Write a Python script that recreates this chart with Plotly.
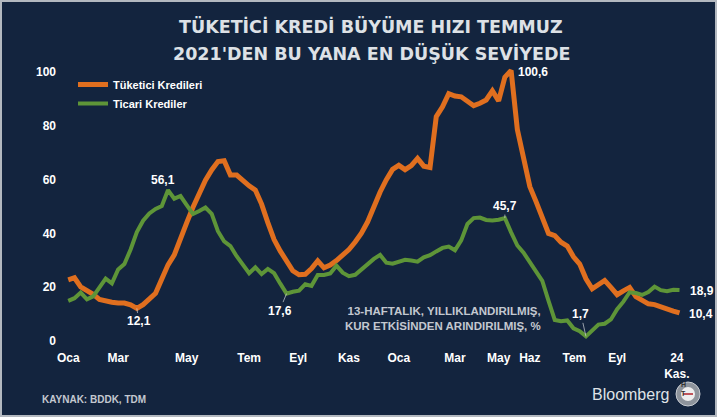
import plotly.graph_objects as go
import pandas as pd

# weekly data, 13-week annualised growth (%), Jan 2023 - Nov 2024
weeks = pd.date_range("2023-01-06", periods=99, freq="7D")

tuketici = [22.7, 23.5, 20.1, 18.9, 17.3, 15.4, 14.8, 14.4, 14.1, 14.1,
            13.4, 12.1, 13.5, 15.7, 17.7, 23.0, 28.3, 32.0, 38.7, 44.0,
            49.7, 55.0, 59.8, 63.6, 66.7, 67.0, 61.7, 61.7, 59.4, 57.7,
            56.1, 50.9, 44.0, 37.7, 33.4, 29.6, 26.1, 24.6, 24.8, 26.9,
            29.8, 27.2, 28.2, 29.9, 32.0, 34.0, 36.8, 40.1, 44.3, 50.1,
            55.4, 60.0, 63.8, 65.3, 63.7, 65.2, 67.9, 65.0, 64.5, 83.4,
            87.1, 92.0, 91.1, 90.8, 89.4, 87.5, 88.4, 89.6, 93.0, 89.3,
            98.1, 100.6, 78.6, 67.3, 57.4, 51.8, 46.1, 40.0, 39.2, 36.7,
            35.3, 31.3, 28.6, 23.1, 19.4, 20.7, 22.5, 19.9, 17.2, 18.6,
            19.9, 16.5, 14.9, 13.8, 13.5, 12.6, 12.0, 11.1, 10.4]

ticari = [14.9, 15.9, 18.0, 15.5, 16.6, 19.8, 23.2, 21.4, 26.6, 28.6,
          34.0, 40.5, 44.7, 47.4, 49.1, 50.2, 56.1, 52.9, 53.9, 50.5,
          47.2, 48.3, 49.6, 47.3, 40.8, 37.0, 35.3, 31.5, 28.5, 25.2,
          27.4, 24.9, 26.8, 25.2, 21.3, 17.6, 18.3, 18.7, 21.1, 20.5,
          24.5, 24.5, 25.1, 28.0, 25.4, 24.1, 24.6, 26.6, 28.8, 30.5,
          32.0, 29.1, 28.7, 29.5, 30.2, 29.9, 29.5, 31.1, 31.9, 33.3,
          34.6, 35.1, 33.7, 37.4, 43.5, 45.7, 45.9, 45.0, 44.8, 45.1,
          45.7, 40.4, 35.5, 32.8, 29.4, 26.0, 22.3, 14.9, 7.8, 7.3,
          7.6, 4.7, 3.6, 1.7, 4.1, 6.1, 6.4, 8.0, 11.8, 14.6,
          18.1, 17.8, 17.1, 18.2, 20.2, 18.9, 18.5, 19.0, 18.9]

tick_dates = ["2023-01-06", "2023-03-03", "2023-05-19", "2023-07-28", "2023-09-21",
              "2023-11-17", "2024-01-12", "2024-03-15", "2024-05-03", "2024-06-07",
              "2024-07-27", "2024-09-13", "2024-11-19"]
tick_text = ["Oca", "Mar", "May", "Tem", "Eyl", "Kas", "Oca", "Mar", "May", "Haz",
             "Tem", "Eyl", "24<br>Kas."]

BG = "#13243e"
ORANGE = "#e06f1f"
GREEN = "#5e9538"
W, H = 717, 417
ML, MR, MT, MB = 62, 25, 64, 68
PW, PH = W - ML - MR, H - MT - MB

def px_x(p):
    return (p - ML) / PW

def px_y(p):
    return (MT + PH - p) / PH

fig = go.Figure()
fig.add_trace(go.Scatter(x=weeks, y=tuketici, name="Tüketici Kredileri", mode="lines",
                         line=dict(color=ORANGE, width=5)))
fig.add_trace(go.Scatter(x=weeks, y=ticari, name="Ticari Krediler", mode="lines",
                         line=dict(color=GREEN, width=4)))

lab_font = dict(family="Liberation Sans", size=12, color="white", weight="bold")

# value labels (offsets in px)
labels = [
    (tuketici, 11, "12,1", 2, 13, True),
    (ticari, 16, "56,1", -5, -10, False),
    (ticari, 35, "17,6", -7, 17, True),
    (tuketici, 71, "100,6", 22, 2, False),
    (ticari, 70, "45,7", 0, -12, True),
    (ticari, 83, "1,7", -5, -22, True),
]
for ser, i, txt, dx, dy, arrow in labels:
    if arrow:
        fig.add_annotation(x=weeks[i], y=ser[i], text=txt, showarrow=True, arrowhead=0,
                           arrowwidth=0.7, arrowcolor="#d0d4da", ax=dx, ay=dy,
                           font=lab_font)
    else:
        fig.add_annotation(x=weeks[i], y=ser[i], text=txt, showarrow=False,
                           xshift=dx, yshift=-dy, font=lab_font)

fig.add_annotation(x=weeks[-1], y=ticari[-1], text="18,9", showarrow=False,
                   xshift=22, yshift=-1, font=lab_font)
fig.add_annotation(x=weeks[-1], y=tuketici[-1], text="10,4", showarrow=False,
                   xshift=21, yshift=-1, font=lab_font)

# note text inside plot
fig.add_annotation(xref="paper", yref="paper", x=px_x(543), y=px_y(318),
                   xanchor="right", yanchor="middle", align="right", showarrow=False,
                   text="13-HAFTALIK, YILLIKLANDIRILMIŞ,<br>KUR ETKİSİNDEN ARINDIRILMIŞ, %",
                   font=dict(family="Liberation Sans", size=11.5, color="#c3c8d0", weight="bold"))

# title, two lines
title_font = dict(family="DejaVu Sans", size=17.5, color="#dde1e6", weight="bold")
for txt, yy in [("TÜKETİCİ KREDİ BÜYÜME HIZI TEMMUZ", 26.5),
                ("2021'DEN BU YANA EN DÜŞÜK SEVİYEDE", 53.5)]:
    fig.add_annotation(xref="paper", yref="paper", x=px_x(371), y=px_y(yy),
                       xanchor="center", yanchor="middle", showarrow=False,
                       text=txt, font=title_font)

# source + brand
fig.add_annotation(xref="paper", yref="paper", x=px_x(40), y=px_y(399),
                   xanchor="left", yanchor="middle", showarrow=False, text="KAYNAK: BDDK, TDM",
                   font=dict(family="Liberation Sans", size=10, color="#c3c8d0", weight="bold"))
fig.add_annotation(xref="paper", yref="paper", x=px_x(671), y=px_y(394),
                   xanchor="right", yanchor="middle", showarrow=False, text="Bloomberg",
                   font=dict(family="Liberation Sans", size=16, color="#dfe2e6"))

shapes = [
    dict(type="rect", xref="paper", yref="paper", x0=px_x(1), x1=px_x(W - 1),
         y0=px_y(H - 1), y1=px_y(1), line=dict(color="#b3b8bf", width=2)),
    dict(type="circle", xref="paper", yref="paper", x0=px_x(676), x1=px_x(700),
         y0=px_y(406), y1=px_y(382), fillcolor="#8e949c", line=dict(color="#c8ccd2", width=1)),
    dict(type="circle", xref="paper", yref="paper", x0=px_x(681), x1=px_x(695),
         y0=px_y(401), y1=px_y(387), fillcolor="#eeeeee", line=dict(width=0)),
    dict(type="line", xref="paper", yref="paper", x0=px_x(683), x1=px_x(693),
         y0=px_y(394), y1=px_y(394), line=dict(color="#b0202a", width=1.5)),
]
fig.add_annotation(xref="paper", yref="paper", x=px_x(688), y=px_y(390), showarrow=False,
                   text="H", font=dict(family="Liberation Sans", size=7, color="#333", weight="bold"))
fig.add_annotation(xref="paper", yref="paper", x=px_x(688), y=px_y(398.5), showarrow=False,
                   text="T", font=dict(family="Liberation Sans", size=7, color="#333", weight="bold"))

fig.update_layout(
    width=W, height=H,
    paper_bgcolor=BG, plot_bgcolor=BG,
    margin=dict(l=ML, r=MR, t=MT, b=MB),
    shapes=shapes,
    showlegend=True,
    legend=dict(x=px_x(73), y=px_y(70), xanchor="left", yanchor="top",
                bgcolor="rgba(0,0,0,0)",
                font=dict(family="Liberation Sans", size=11, color="white", weight="bold")),
    xaxis=dict(type="date", range=["2022-12-30", "2024-12-06"], showgrid=False,
               zeroline=False, showline=False, tickmode="array",
               tickvals=tick_dates, ticktext=tick_text, tickangle=0,
               tickfont=dict(family="Liberation Sans", size=12, color="white", weight="bold")),
    yaxis=dict(range=[-3, 103], showgrid=False, zeroline=False, showline=False,
               tickvals=[0, 20, 40, 60, 80, 100], ticklabelstandoff=5,
               tickfont=dict(family="Liberation Sans", size=12, color="white", weight="bold")),
)

fig.write_html("out.html", config={"displayModeBar": False},
               post_script="document.body.style.margin='0';")
